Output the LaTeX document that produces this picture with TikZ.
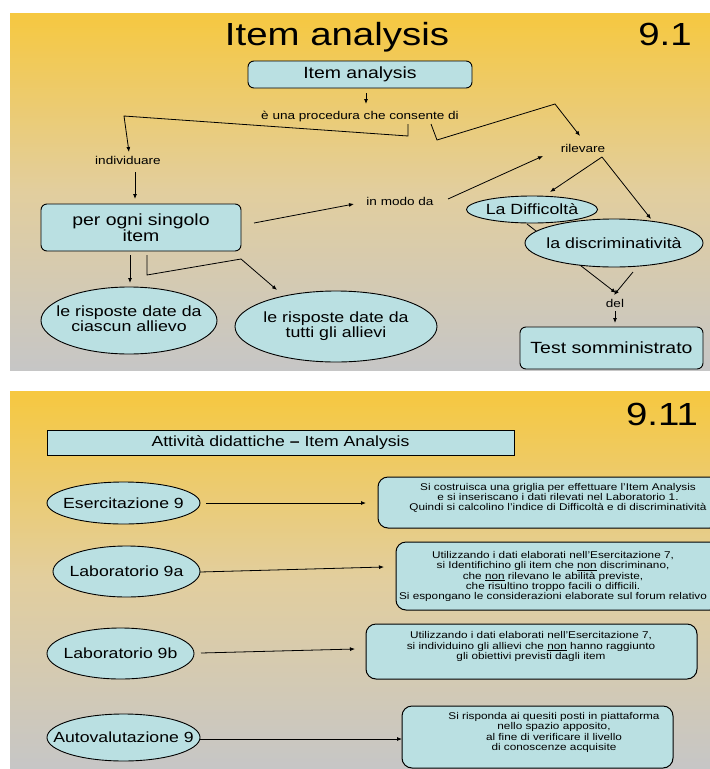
\documentclass[tikz,border=0pt]{standalone}
\usepackage{fontspec}
\setmainfont[FakeStretch=1.2]{Liberation Sans}
\usetikzlibrary{shapes.geometric,arrows.meta}
\definecolor{bgT}{RGB}{246,200,64}
\definecolor{bgM}{RGB}{226,206,158}
\definecolor{bgB}{RGB}{198,198,198}
\definecolor{boxfill}{RGB}{186,224,226}
\newcommand\zw[1]{\makebox[0pt]{#1}}
\newcommand\fs[2]{\fontsize{#1}{#2}\selectfont}
\begin{document}
\begin{tikzpicture}[x=1pt,y=-1pt,
  slide/.style={top color=bgT, bottom color=bgB, middle color=bgM, draw=none},
  rbox/.style={draw=black, line width=0.9pt, fill=boxfill, rounded corners=6pt, inner sep=0pt},
  rboxb/.style={draw=black, line width=1pt, fill=boxfill, rounded corners=10pt, inner sep=0pt},
  ell/.style={ellipse, draw=black, line width=0.9pt, fill=boxfill, inner sep=0pt},
  lbl/.style={inner sep=0pt, font=\fs{11.3}{13}},
  big/.style={inner sep=0pt, font=\fs{32}{36}, anchor=base},
  btxt/.style={inner sep=0pt, align=center, font=\fs{9.8}{10.25}},
  arr/.style={-{Latex[length=5pt,width=4pt]}, line width=0.8pt},
  ln/.style={line width=0.8pt}
]
\useasboundingbox (0,0) rectangle (710,769);
\clip (0,0) rectangle (710,769);
\fill[white] (0,0) rectangle (710,769);
\fill[slide] (10,13) rectangle (710,370);
\fill[slide] (10,391) rectangle (710,769);

% ---------- slide 1 ----------
\node[big] (t1) at (337,45) {Item analysis};
\node[big] (n1) at (665,45) {9.1};
\node[rbox, minimum width=224pt, minimum height=27pt, font=\fs{16.2}{18}] (ia) at (360,74.5) {Item analysis};
\node[lbl] (proc) at (360,117) {è una procedura che consente di};
\node[lbl] (ind) at (128,160) {individuare};
\node[rbox, minimum width=200pt, minimum height=47pt, align=center, font=\fs{16.2}{16}] (pog) at (141,227.5) {per ogni singolo\\item};
\node[lbl] (imd) at (400,201) {in modo da};
\node[lbl] (ril) at (583,148) {rilevare};
\node[ell, minimum width=131pt, minimum height=27pt, font=\fs{14.8}{14}] (dif) at (532,209.5) {\zw{La Difficoltà}};
\node[lbl] (del) at (615,303) {del};

\coordinate (difs) at (527,224);
\coordinate (dela) at (616,293);
\draw[arr] (difs) -- (dela);

\node[ell, minimum width=178pt, minimum height=48pt, font=\fs{14.8}{14}] (dis) at (614,243) {\zw{la discriminatività}};
\node[rbox, minimum width=183pt, minimum height=42pt, font=\fs{16.2}{18}] (tst) at (611.5,348) {Test somministrato};
\node[ell, minimum width=176pt, minimum height=67pt, font=\fs{14.8}{14}] (cia) at (129,320.5) {\zw{\begin{tabular}{@{}c@{}}le risposte date da\\ciascun allievo\end{tabular}}};
\node[ell, minimum width=202pt, minimum height=71pt, font=\fs{14.8}{14}] (tut) at (336,326.5) {\zw{\begin{tabular}{@{}c@{}}le risposte date da\\tutti gli allievi\end{tabular}}};

% connector points
\coordinate (ia1) at (366,93);   \coordinate (pr1) at (366,104);
\coordinate (pa) at (408,124);   \coordinate (pb) at (408,136);
\coordinate (pc) at (124,116);   \coordinate (in1) at (129,152);
\coordinate (qa) at (431,124);   \coordinate (qb) at (437,140);
\coordinate (qc) at (555,104);   \coordinate (ri1) at (580,136);
\coordinate (in2) at (135,172);  \coordinate (po1) at (135,199);
\coordinate (po2) at (254,223);  \coordinate (im1) at (354,204);
\coordinate (im2) at (448,199);  \coordinate (ri2) at (543,156);
\coordinate (ri3) at (602,157);  \coordinate (di1) at (550,192);
\coordinate (ds1) at (651,219);  \coordinate (ds2) at (633,272);
\coordinate (delb) at (614,295); \coordinate (de1) at (615,311);
\coordinate (ts1) at (615,323);
\coordinate (po3) at (130,255);  \coordinate (ci1) at (130,283);
\coordinate (ra) at (147,255);   \coordinate (rb) at (147,275);
\coordinate (rc) at (241,259);   \coordinate (tu1) at (277,290);

\draw[arr] (ia1) -- (pr1);
\draw[arr] (pa) -- (pb) -- (pc) -- (in1);
\draw[arr] (qa) -- (qb) -- (qc) -- (ri1);
\draw[arr] (in2) -- (po1);
\draw[arr] (po2) -- (im1);
\draw[arr] (im2) -- (ri2);
\draw[arr] (ri3) -- (di1);
\draw[arr] (ri3) -- (ds1);
\draw[arr] (ds2) -- (delb);
\draw[arr] (de1) -- (ts1);
\draw[arr] (po3) -- (ci1);
\draw[arr] (ra) -- (rb) -- (rc) -- (tu1);

% ---------- slide 2 ----------
\node[big] (n2) at (662,425) {9.11};
\node[draw=black, line width=0.9pt, fill=boxfill, minimum width=467pt, minimum height=25pt, inner sep=0pt, font=\fs{14.7}{16}] (t2) at (280.5,442.5) {Attività didattiche \textbf{–} Item Analysis};

\node[ell, minimum width=153pt, minimum height=42pt, font=\fs{14.7}{16}] (es) at (123.5,503) {\zw{Esercitazione 9}};
\node[ell, minimum width=147pt, minimum height=51pt, font=\fs{14.7}{16}] (la) at (126.5,571.5) {\zw{Laboratorio 9a}};
\node[ell, minimum width=147pt, minimum height=51pt, font=\fs{14.7}{16}] (lb) at (120.5,653.5) {\zw{Laboratorio 9b}};
\node[ell, minimum width=153pt, minimum height=47pt, font=\fs{14.7}{16}] (au) at (123.5,737.5) {\zw{Autovalutazione 9}};

\node[rboxb, minimum width=342pt, minimum height=51pt] (b1) at (549,502.5) {};
\node[btxt] (b1t) at (558,498) {Si costruisca una griglia per effettuare l’Item Analysis\\e si inseriscano i dati rilevati nel Laboratorio 1.\\Quindi si calcolino l’indice di Difficoltà e di discriminatività};
\node[rboxb, minimum width=324pt, minimum height=68pt] (b2) at (558,576) {};
\node[btxt] (b2t) at (553,576.5) {Utilizzando i dati elaborati nell’Esercitazione 7,\\si Identifichino gli item che \underline{non} discriminano,\\che \underline{non} rilevano le abilità previste,\\che risultino troppo facili o difficili.\\Si espongano le considerazioni elaborate sul forum relativo};
\node[rboxb, minimum width=331pt, minimum height=55pt] (b3) at (531.5,651.5) {};
\node[btxt] (b3t) at (531,646.5) {Utilizzando i dati elaborati nell’Esercitazione 7,\\si individuino gli allievi che \underline{non} hanno raggiunto\\gli obiettivi previsti dagli item};
\node[rboxb, minimum width=271pt, minimum height=62pt] (b4) at (537.5,737) {};
\node[btxt] (b4t) at (554,732.5) {Si risponda ai quesiti posti in piattaforma\\nello spazio apposito,\\al fine di verificare il livello\\di conoscenze acquisite};

\coordinate (e1) at (206,503);  \coordinate (e2) at (366,503);
\coordinate (f1) at (200,572);  \coordinate (f2) at (384,567);
\coordinate (g1) at (201,653);  \coordinate (g2) at (355,649);
\coordinate (h1) at (200,739);  \coordinate (h2) at (402,739);
\draw[arr] (e1) -- (e2);
\draw[arr] (f1) -- (f2);
\draw[arr] (g1) -- (g2);
\draw[arr] (h1) -- (h2);
\end{tikzpicture}
\end{document}
